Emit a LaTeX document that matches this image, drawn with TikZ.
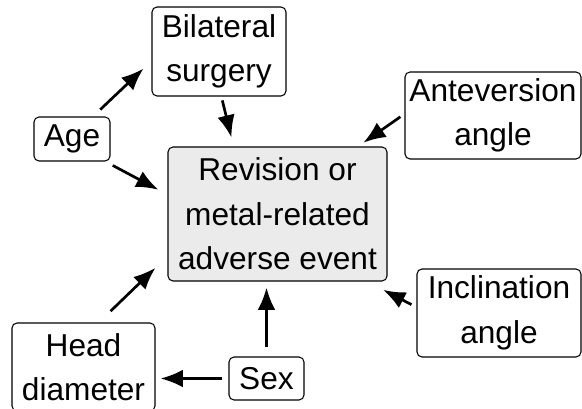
\documentclass[tikz,border=0pt]{standalone}
\usepackage{fontspec}
\setmainfont{Liberation Sans}
\usetikzlibrary{positioning,arrows.meta}
\tikzset{>={Latex[length=19pt,width=15pt]}}
\tikzset{box/.style={rectangle,rounded corners=1.5mm,draw=black,line width=0.9pt,align=center,inner sep=0pt,font=\fontsize{27}{38}\selectfont}}
\tikzset{arr/.style={->,line width=2.3pt}}
\definecolor{outfill}{HTML}{EBEBEB}

\begin{document}
\begin{tikzpicture}
\useasboundingbox (0,0) rectangle (17.46,12.27);

\node[box,minimum width =4.02cm ,minimum height =2.67cm] (1) at(6.57,10.725){Bilateral\\surgery};
\node[box,minimum width =2.28cm ,minimum height =1.32cm] (2) at(2.16,8.10){Age};
\node[box,minimum width =6.57cm ,minimum height =4.02cm ,fill=outfill] (3) at(8.325,5.85){Revision or\\metal-related\\adverse event};
\node[box,minimum width =5.28cm ,minimum height =2.61cm] (4) at(14.79,8.805){Anteversion\\angle};
\node[box,minimum width =4.92cm ,minimum height =2.64cm] (5) at(14.97,2.88){Inclination\\angle};
\node[box,minimum width =4.29cm ,minimum height =2.64cm] (6) at(2.505,1.26){Head\\diameter};
\node[box,minimum width =2.25cm ,minimum height =1.29cm] (7) at(7.995,0.915){Sex};

\draw[arr,shorten <=0.30cm,shorten >=0.33cm] (2.47) --(1.188);
\draw[arr,shorten <=0.12cm,shorten >=0.28cm] (1.273) --(3.123);
\draw[arr,shorten <=0.25cm,shorten >=0.31cm] (2.326) --(3.170);
\draw[arr,shorten <=0.15cm,shorten >=0.20cm] (4.179) --(3.40);
\draw[arr,shorten <=0.17cm,shorten >=0.54cm] (5.176) --(3.323);
\draw[arr,shorten <=0.49cm,shorten >=0.50cm] (6.71) --(3.201);
\draw[arr,shorten <=0.27cm,shorten >=0.18cm] (7.north) --(7.north |- 3.south);
\draw[arr,shorten <=0.18cm,shorten >=0.15cm] (7.west) --(7.west -| 6.east);

\end{tikzpicture}
\end{document}
